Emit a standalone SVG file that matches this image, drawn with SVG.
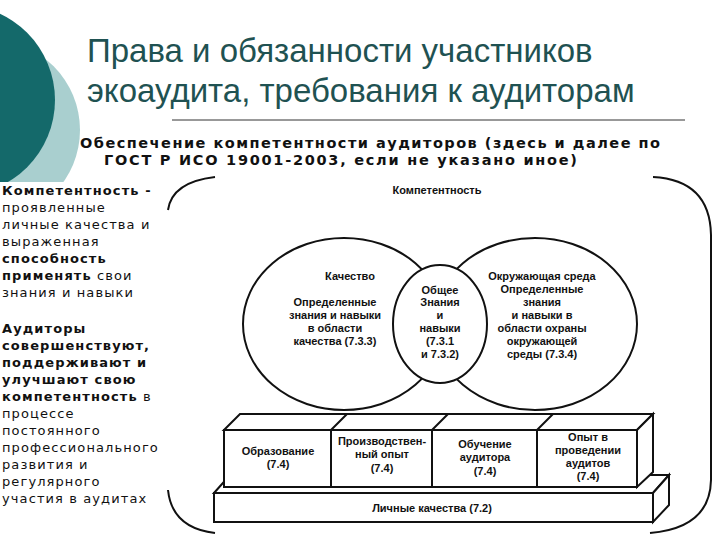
<svg xmlns="http://www.w3.org/2000/svg" width="720" height="540" viewBox="0 0 720 540">
<style>
.t{font-family:"Liberation Sans",Arial,sans-serif;font-size:11px;font-weight:bold;text-anchor:middle;fill:#111}
.l{font-family:"DejaVu Sans",sans-serif;font-size:13px;fill:#111;letter-spacing:1.1px}
.b{font-weight:bold}
.s{fill:#fff;stroke:#111;stroke-width:2}
.ln{fill:none;stroke:#111;stroke-width:2}
</style>
<rect width="720" height="540" fill="#fff"/>
<circle cx="-10" cy="130" r="90" fill="#a9cfcf"/>
<circle cx="-40" cy="100" r="95" fill="#14696a"/>
<rect x="0" y="182" width="166" height="330" fill="#fff"/>
<g id="title" font-family="'Liberation Sans',Arial,sans-serif" font-size="33" fill="#1f5252">
<text x="87" y="62">Права и обязанности участников</text>
<text x="87" y="102">экоаудита, требования к аудиторам</text>
</g>
<line x1="172" y1="120" x2="685" y2="120" stroke="#333" stroke-width="1"/>
<g id="subtitle" font-family="'DejaVu Sans',sans-serif" font-size="14.5" font-weight="bold" fill="#111">
<text x="80" y="148" textLength="580" lengthAdjust="spacing">Обеспечение компетентности аудиторов (здесь и далее по</text>
<text x="104" y="165" textLength="473" lengthAdjust="spacing">ГОСТ Р ИСО 19001-2003, если не указано иное)</text>
</g>
<g id="lefttext" class="l">
<text x="2" y="195" class="b">Компетентность -</text>
<text x="2" y="212">проявленные</text>
<text x="2" y="229">личные качества и</text>
<text x="2" y="246">выраженная</text>
<text x="2" y="263" class="b">способность</text>
<text x="2" y="280"><tspan class="b">применять</tspan> свои</text>
<text x="2" y="297">знания и навыки</text>
<text x="2" y="333" class="b">Аудиторы</text>
<text x="2" y="350" class="b">совершенствуют,</text>
<text x="2" y="367" class="b">поддерживают и</text>
<text x="2" y="384" class="b">улучшают свою</text>
<text x="2" y="401"><tspan class="b">компетентность</tspan> в</text>
<text x="2" y="418">процессе</text>
<text x="2" y="435">постоянного</text>
<text x="2" y="452">профессионального</text>
<text x="2" y="469">развития и</text>
<text x="2" y="486">регулярного</text>
<text x="2" y="503">участия в аудитах</text>
</g>
<g id="connectors">
<path class="ln" d="M168,210 Q172,182 215,177"/>
<path class="ln" d="M168,490 Q172,528 215,533"/>
<path class="ln" d="M653,177 Q710,180 711,235 L711,480 Q710,528 650,533"/>
</g>
<text class="t" x="437" y="194" font-size="12.5">Компетентность</text>
<g id="quality"><ellipse class="ln" cx="344" cy="324" rx="101" ry="86"/>
<text class="t" x="350" y="280">Качество</text>
<text class="t" x="335" y="306">Определенные</text>
<text class="t" x="335" y="319">знания и навыки</text>
<text class="t" x="335" y="332">в области</text>
<text class="t" x="335" y="345">качества (7.3.3)</text></g>
<g id="env"><ellipse class="ln" cx="535" cy="324" rx="102" ry="86"/>
<text class="t" x="542" y="280">Окружающая среда</text>
<text class="t" x="542" y="293">Определенные</text>
<text class="t" x="542" y="306">знания</text>
<text class="t" x="542" y="319">и навыки в</text>
<text class="t" x="542" y="332">области охраны</text>
<text class="t" x="542" y="345">окружающей</text>
<text class="t" x="542" y="358">среды (7.3.4)</text></g>
<g id="common"><ellipse class="s" cx="440" cy="324" rx="47" ry="59"/>
<text class="t" x="440" y="294">Общее</text>
<text class="t" x="440" y="306" font-weight="normal">Знания</text>
<text class="t" x="440" y="319" font-weight="normal">и</text>
<text class="t" x="440" y="332" font-weight="normal">навыки</text>
<text class="t" x="440" y="345" font-weight="normal">(7.3.1</text>
<text class="t" x="440" y="358" font-weight="normal">и 7.3.2)</text></g>
<g id="base">
<path class="s" d="M214,493 L230,475 L669,475 L653,493 Z"/>
<path class="s" d="M653,493 L669,475 L669,505 L653,522 Z"/>
<rect class="s" x="214" y="493" width="439" height="29"/>
<text class="t" x="432" y="512">Личные качества (7.2)</text>
</g>
<g id="blocks">
<path class="s" d="M224,430 L240,414 L653,414 L637,430 Z"/>
<path class="s" d="M637,430 L653,414 L653,472 L637,487 Z"/>
<path class="ln" d="M331,430 L347,414 M432,430 L448,414 M537,430 L553,414"/>
</g>
<g id="edu"><rect class="s" x="224" y="430" width="107" height="57"/>
<text class="t" x="278" y="455">Образование</text><text class="t" x="278" y="468">(7.4)</text></g>
<g id="work"><rect class="s" x="331" y="430" width="101" height="57"/>
<text class="t" x="382" y="445">Производствен-</text><text class="t" x="382" y="458">ный опыт</text><text class="t" x="382" y="472">(7.4)</text></g>
<g id="train"><rect class="s" x="432" y="430" width="105" height="57"/>
<text class="t" x="485" y="448">Обучение</text><text class="t" x="485" y="461">аудитора</text><text class="t" x="485" y="475">(7.4)</text></g>
<g id="exp"><rect class="s" x="537" y="430" width="100" height="57"/>
<text class="t" x="588" y="441">Опыт в</text><text class="t" x="588" y="454">проведении</text><text class="t" x="588" y="467">аудитов</text><text class="t" x="588" y="480">(7.4)</text></g>
</svg>
